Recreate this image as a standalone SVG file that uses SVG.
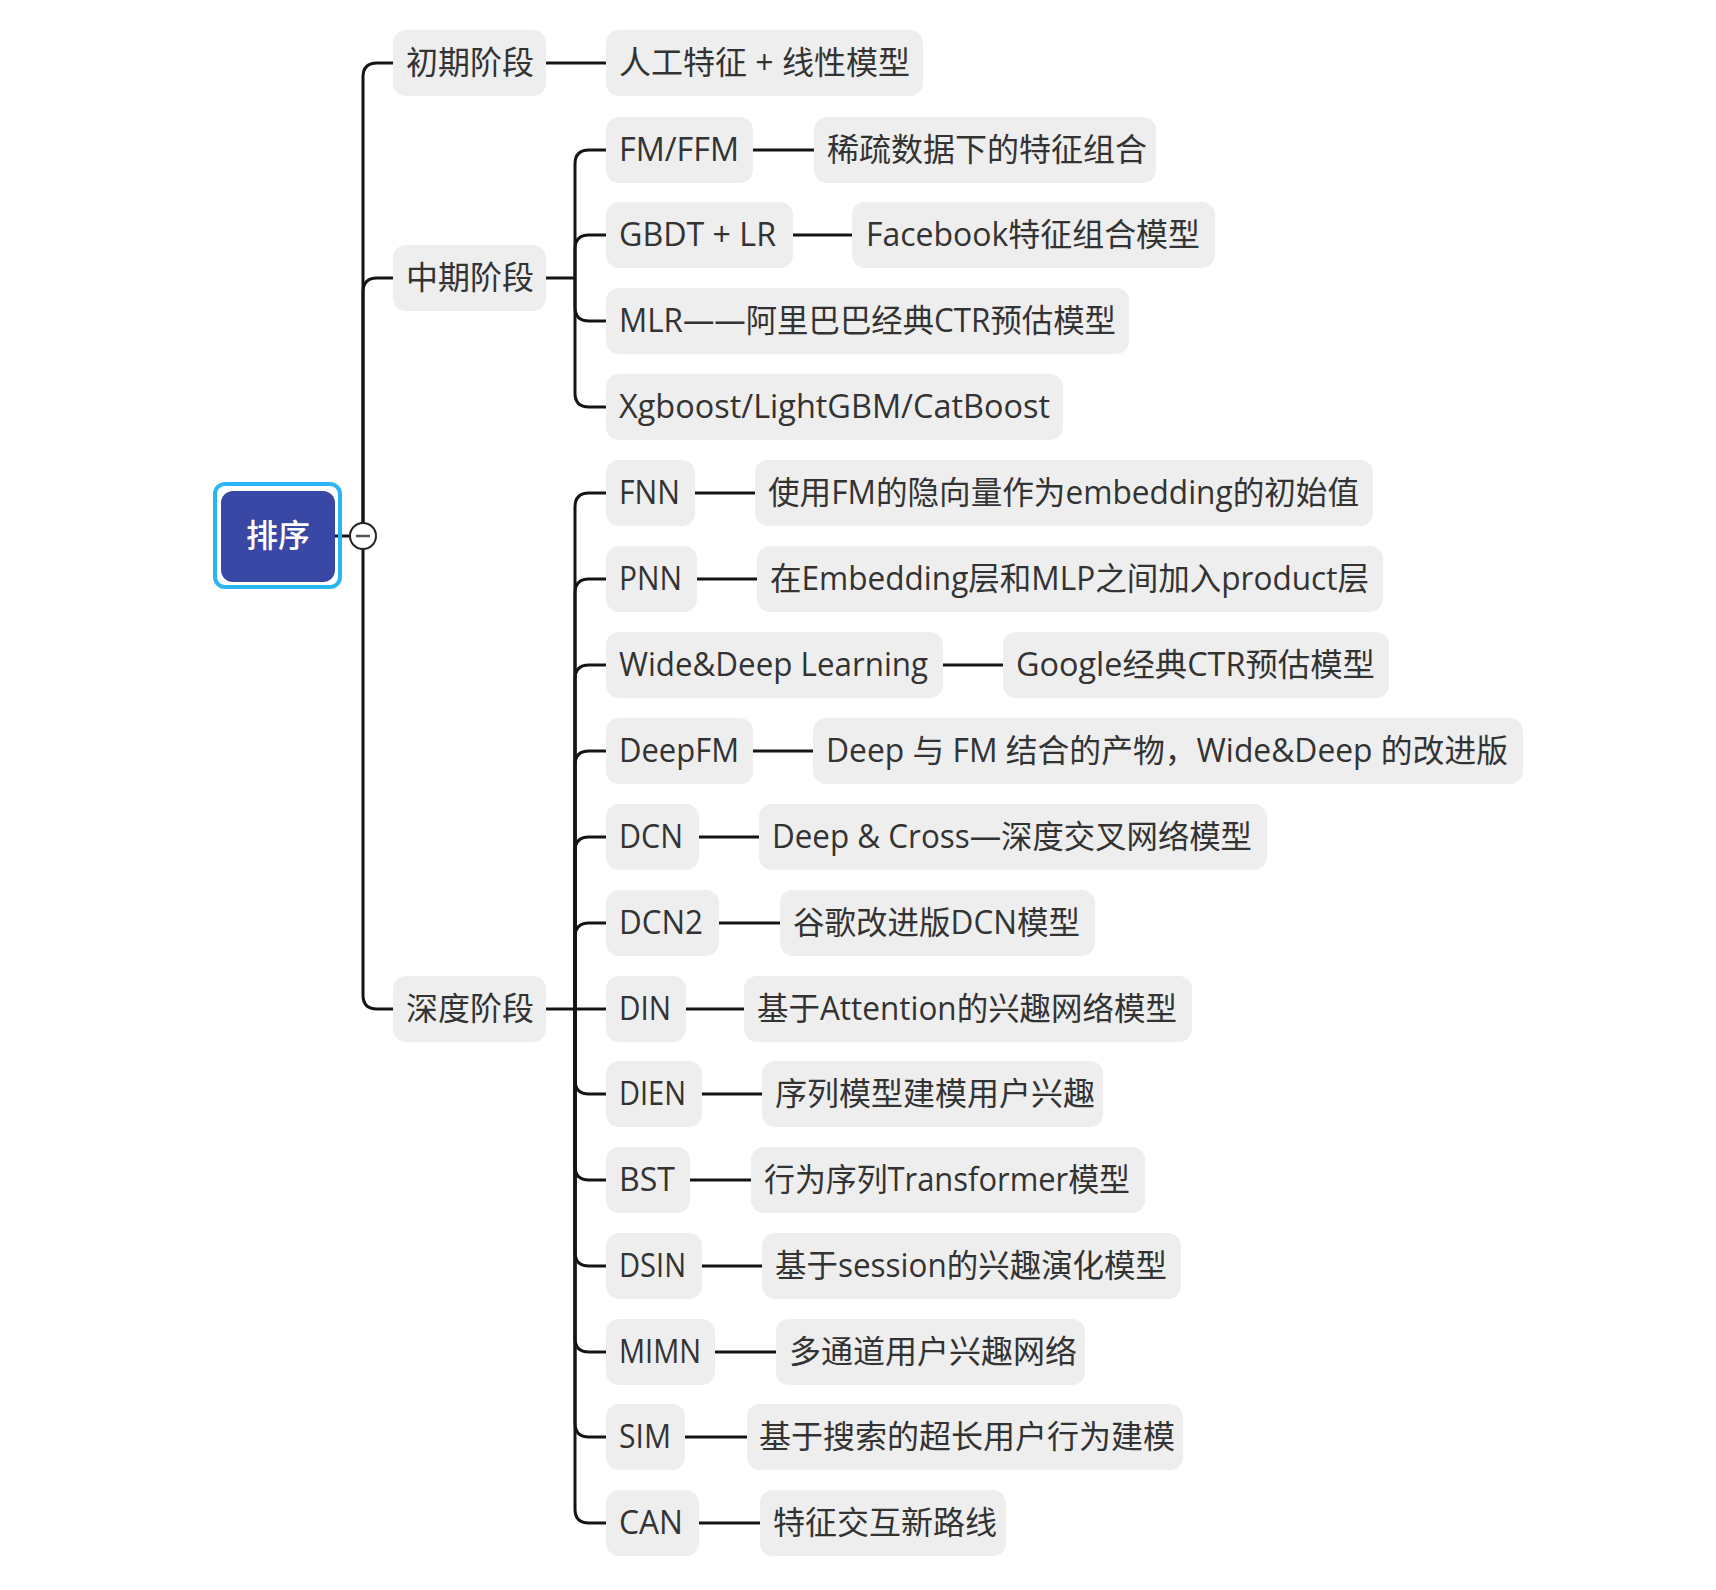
<svg xmlns="http://www.w3.org/2000/svg" width="1716" height="1590" viewBox="0 0 1716 1590">
<style>
.box{fill:#eeeeee}
.t{font-family:"Open Sans","Noto Sans CJK SC",sans-serif;font-size:32px;fill:#333333}
.c{fill:none;stroke:#141414;stroke-width:3}
</style>
<rect width="1716" height="1590" fill="#ffffff"/>
<g id="connectors">
<path class="c" d="M335 536H350"/>
<path class="c" d="M363 536V77Q363 63 377 63H393"/>
<path class="c" d="M363 536V292Q363 278 377 278H393"/>
<path class="c" d="M363 536V995Q363 1009 377 1009H393"/>
<path class="c" d="M546 63H606"/>
<path class="c" d="M546 278H575"/>
<path class="c" d="M575 278V164Q575 150 589 150H606"/>
<path class="c" d="M575 278V249Q575 235 589 235H606"/>
<path class="c" d="M575 278V307Q575 321 589 321H606"/>
<path class="c" d="M575 278V393Q575 407 589 407H606"/>
<path class="c" d="M753 150H814"/>
<path class="c" d="M793 235H852"/>
<path class="c" d="M546 1009H575"/>
<path class="c" d="M575 1009V507Q575 493 589 493H606"/>
<path class="c" d="M575 1009V593Q575 579 589 579H606"/>
<path class="c" d="M575 1009V679Q575 665 589 665H606"/>
<path class="c" d="M575 1009V765Q575 751 589 751H606"/>
<path class="c" d="M575 1009V851Q575 837 589 837H606"/>
<path class="c" d="M575 1009V937Q575 923 589 923H606"/>
<path class="c" d="M575 1009H606"/>
<path class="c" d="M575 1009V1080Q575 1094 589 1094H606"/>
<path class="c" d="M575 1009V1166Q575 1180 589 1180H606"/>
<path class="c" d="M575 1009V1252Q575 1266 589 1266H606"/>
<path class="c" d="M575 1009V1338Q575 1352 589 1352H606"/>
<path class="c" d="M575 1009V1423Q575 1437 589 1437H606"/>
<path class="c" d="M575 1009V1509Q575 1523 589 1523H606"/>
<path class="c" d="M695 493H755"/>
<path class="c" d="M697 579H757"/>
<path class="c" d="M943 665H1003"/>
<path class="c" d="M753 751H813"/>
<path class="c" d="M699 837H759"/>
<path class="c" d="M719 923H780"/>
<path class="c" d="M686 1009H744"/>
<path class="c" d="M702 1094H762"/>
<path class="c" d="M690 1180H751"/>
<path class="c" d="M702 1266H762"/>
<path class="c" d="M715 1352H776"/>
<path class="c" d="M685 1437H747"/>
<path class="c" d="M699 1523H760"/>
</g>
<g id="collapse">
<circle cx="363" cy="536" r="13" fill="#ffffff" stroke="#222222" stroke-width="2"/>
<path d="M356 536H370" stroke="#555555" stroke-width="2.5"/>
</g>
<g id="root">
<rect x="215" y="484" width="125" height="103" rx="10" fill="none" stroke="#29b6f2" stroke-width="4"/>
<rect x="221" y="491" width="114" height="91" rx="12" fill="#3947a5"/>
<text x="278" y="547" text-anchor="middle" font-family="Noto Sans CJK SC, sans-serif" font-size="32" font-weight="500" fill="#ffffff">排序</text>
</g>
<g id="n-early"><rect class="box" x="393" y="30" width="153" height="66" rx="13"/><text class="t" x="406" y="74">初期阶段</text></g>
<g id="n-mid"><rect class="box" x="393" y="245" width="153" height="66" rx="13"/><text class="t" x="406" y="289">中期阶段</text></g>
<g id="n-deep"><rect class="box" x="393" y="976" width="153" height="66" rx="13"/><text class="t" x="406" y="1020">深度阶段</text></g>
<g id="n-early-1"><rect class="box" x="606" y="30" width="317" height="66" rx="13"/><text class="t" x="619" y="74" textLength="291" lengthAdjust="spacingAndGlyphs">人工特征 + 线性模型</text></g>
<g id="n-fm"><rect class="box" x="606" y="117" width="147" height="66" rx="13"/><text class="t" x="619" y="161" textLength="120" lengthAdjust="spacingAndGlyphs">FM/FFM</text></g>
<g id="n-fm-d"><rect class="box" x="814" y="117" width="342" height="66" rx="13"/><text class="t" x="827" y="161">稀疏数据下的特征组合</text></g>
<g id="n-gbdt"><rect class="box" x="606" y="202" width="187" height="66" rx="13"/><text class="t" x="619" y="246" textLength="157" lengthAdjust="spacingAndGlyphs">GBDT + LR</text></g>
<g id="n-gbdt-d"><rect class="box" x="852" y="202" width="363" height="66" rx="13"/><text class="t" x="866" y="246" textLength="334" lengthAdjust="spacingAndGlyphs">Facebook特征组合模型</text></g>
<g id="n-mlr"><rect class="box" x="606" y="288" width="523" height="66" rx="13"/><text class="t" x="619" y="332" textLength="497" lengthAdjust="spacingAndGlyphs">MLR——阿里巴巴经典CTR预估模型</text></g>
<g id="n-xgb"><rect class="box" x="606" y="374" width="457" height="66" rx="13"/><text class="t" x="619" y="418" textLength="431" lengthAdjust="spacingAndGlyphs">Xgboost/LightGBM/CatBoost</text></g>
<g id="n-fnn"><rect class="box" x="606" y="460" width="89" height="66" rx="13"/><text class="t" x="619" y="504" textLength="61" lengthAdjust="spacingAndGlyphs">FNN</text></g>
<g id="n-fnn-d"><rect class="box" x="755" y="460" width="618" height="66" rx="13"/><text class="t" x="768" y="504" textLength="591" lengthAdjust="spacingAndGlyphs">使用FM的隐向量作为embedding的初始值</text></g>
<g id="n-pnn"><rect class="box" x="606" y="546" width="91" height="66" rx="13"/><text class="t" x="619" y="590" textLength="63" lengthAdjust="spacingAndGlyphs">PNN</text></g>
<g id="n-pnn-d"><rect class="box" x="757" y="546" width="626" height="66" rx="13"/><text class="t" x="770" y="590" textLength="599" lengthAdjust="spacingAndGlyphs">在Embedding层和MLP之间加入product层</text></g>
<g id="n-wd"><rect class="box" x="606" y="632" width="337" height="66" rx="13"/><text class="t" x="619" y="676" textLength="309" lengthAdjust="spacingAndGlyphs">Wide&amp;Deep Learning</text></g>
<g id="n-wd-d"><rect class="box" x="1003" y="632" width="386" height="66" rx="13"/><text class="t" x="1016" y="676" textLength="359" lengthAdjust="spacingAndGlyphs">Google经典CTR预估模型</text></g>
<g id="n-deepfm"><rect class="box" x="606" y="718" width="147" height="66" rx="13"/><text class="t" x="619" y="762" textLength="120" lengthAdjust="spacingAndGlyphs">DeepFM</text></g>
<g id="n-deepfm-d"><rect class="box" x="813" y="718" width="710" height="66" rx="13"/><text class="t" x="826" y="762" textLength="682" lengthAdjust="spacingAndGlyphs">Deep 与 FM 结合的产物，Wide&amp;Deep 的改进版</text></g>
<g id="n-dcn"><rect class="box" x="606" y="804" width="93" height="66" rx="13"/><text class="t" x="619" y="848" textLength="64" lengthAdjust="spacingAndGlyphs">DCN</text></g>
<g id="n-dcn-d"><rect class="box" x="759" y="804" width="508" height="66" rx="13"/><text class="t" x="772" y="848" textLength="480" lengthAdjust="spacingAndGlyphs">Deep &amp; Cross—深度交叉网络模型</text></g>
<g id="n-dcn2"><rect class="box" x="606" y="890" width="113" height="66" rx="13"/><text class="t" x="619" y="934" textLength="84" lengthAdjust="spacingAndGlyphs">DCN2</text></g>
<g id="n-dcn2-d"><rect class="box" x="780" y="890" width="315" height="66" rx="13"/><text class="t" x="793" y="934" textLength="287" lengthAdjust="spacingAndGlyphs">谷歌改进版DCN模型</text></g>
<g id="n-din"><rect class="box" x="606" y="976" width="80" height="66" rx="13"/><text class="t" x="619" y="1020" textLength="52" lengthAdjust="spacingAndGlyphs">DIN</text></g>
<g id="n-din-d"><rect class="box" x="744" y="976" width="448" height="66" rx="13"/><text class="t" x="757" y="1020" textLength="420" lengthAdjust="spacingAndGlyphs">基于Attention的兴趣网络模型</text></g>
<g id="n-dien"><rect class="box" x="606" y="1061" width="96" height="66" rx="13"/><text class="t" x="619" y="1105" textLength="67" lengthAdjust="spacingAndGlyphs">DIEN</text></g>
<g id="n-dien-d"><rect class="box" x="762" y="1061" width="341" height="66" rx="13"/><text class="t" x="775" y="1105">序列模型建模用户兴趣</text></g>
<g id="n-bst"><rect class="box" x="606" y="1147" width="84" height="66" rx="13"/><text class="t" x="619" y="1191" textLength="56" lengthAdjust="spacingAndGlyphs">BST</text></g>
<g id="n-bst-d"><rect class="box" x="751" y="1147" width="394" height="66" rx="13"/><text class="t" x="764" y="1191" textLength="366" lengthAdjust="spacingAndGlyphs">行为序列Transformer模型</text></g>
<g id="n-dsin"><rect class="box" x="606" y="1233" width="96" height="66" rx="13"/><text class="t" x="619" y="1277" textLength="67" lengthAdjust="spacingAndGlyphs">DSIN</text></g>
<g id="n-dsin-d"><rect class="box" x="762" y="1233" width="419" height="66" rx="13"/><text class="t" x="775" y="1277" textLength="392" lengthAdjust="spacingAndGlyphs">基于session的兴趣演化模型</text></g>
<g id="n-mimn"><rect class="box" x="606" y="1319" width="109" height="66" rx="13"/><text class="t" x="619" y="1363" textLength="82" lengthAdjust="spacingAndGlyphs">MIMN</text></g>
<g id="n-mimn-d"><rect class="box" x="776" y="1319" width="309" height="66" rx="13"/><text class="t" x="789" y="1363">多通道用户兴趣网络</text></g>
<g id="n-sim"><rect class="box" x="606" y="1404" width="79" height="66" rx="13"/><text class="t" x="619" y="1448" textLength="52" lengthAdjust="spacingAndGlyphs">SIM</text></g>
<g id="n-sim-d"><rect class="box" x="747" y="1404" width="436" height="66" rx="13"/><text class="t" x="759" y="1448">基于搜索的超长用户行为建模</text></g>
<g id="n-can"><rect class="box" x="606" y="1490" width="93" height="66" rx="13"/><text class="t" x="619" y="1534" textLength="64" lengthAdjust="spacingAndGlyphs">CAN</text></g>
<g id="n-can-d"><rect class="box" x="760" y="1490" width="246" height="66" rx="13"/><text class="t" x="773" y="1534">特征交互新路线</text></g>
</svg>
